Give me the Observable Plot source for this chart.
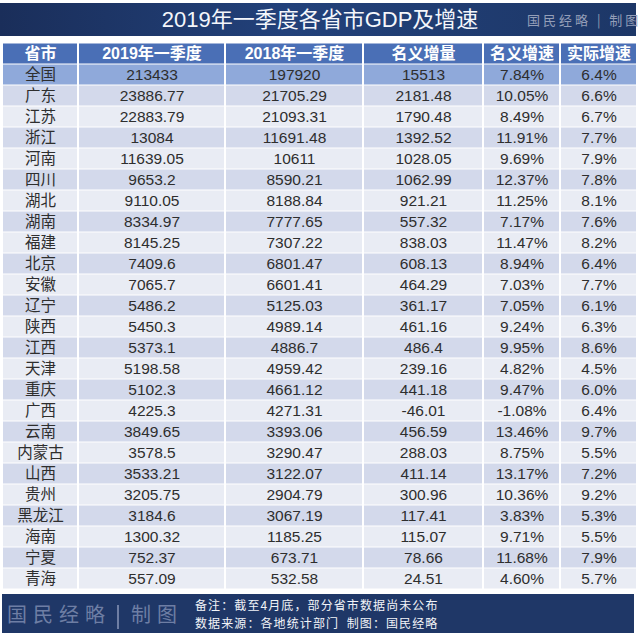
<!DOCTYPE html>
<html>
<head>
<meta charset="utf-8">
<script src="https://cdn.jsdelivr.net/npm/d3@7"></script>
<script src="https://cdn.jsdelivr.net/npm/@observablehq/plot@0.6"></script>
<style>
  html, body { margin: 0; padding: 0; background: #fff; }
  body { width: 640px; height: 638px; position: relative; overflow: hidden; font-family: "Noto Sans CJK SC", "Liberation Sans", sans-serif; }
  #title { position: absolute; left: 0; top: 3px; width: 636px; height: 33px;
    background: linear-gradient(90deg, #1a2e5a 0%, #22417a 45%, #1d3767 100%); }
  #title .main { position: absolute; left: 0; width: 640px; top: 0; height: 33px; line-height: 33px;
    text-align: center; color: #f4f6fb; font-size: 22px; font-family: "Liberation Sans", "Noto Sans CJK SC", sans-serif; }
  #title .brand { position: absolute; left: 527px; top: 0; height: 33px; line-height: 34px;
    color: #939eb8; font-size: 13px; letter-spacing: 3px; white-space: nowrap; }
  #chart { position: absolute; left: 0; top: 38px; }
  #footer { position: absolute; left: 2px; top: 594px; width: 632px; height: 39px; background: #1f3767; }
  #footer .brand { position: absolute; left: 5px; top: 0; height: 39px; line-height: 39px; color: #6e7ea4;
    font-size: 20px; letter-spacing: 6px; white-space: nowrap; }
  #footer .brand .sep { display: inline-block; width: 2px; height: 24px; background: #6e7ea4; vertical-align: middle; margin: 0 12px 0 6px; }
  #footer .note { position: absolute; left: 193px; color: #f2f4f8; font-size: 12px; letter-spacing: 1.1px; white-space: nowrap; }
  #footer .l1 { top: 2px; }
  #footer .l2 { top: 19.6px; }
</style>
</head>
<body>
<div id="title"><div class="main">2019年一季度各省市GDP及增速</div><div class="brand">国民经略 | 制图</div></div>
<div id="chart"></div>
<div id="footer">
  <div class="brand">国民经略<span class="sep"></span>制图</div>
  <div class="note l1">备注：截至4月底，部分省市数据尚未公布</div>
  <div class="note l2">数据来源：各地统计部门&nbsp;&nbsp;制图：国民经略</div>
</div>
<script>
// ---- data ----
const columns = ["省市", "2019年一季度", "2018年一季度", "名义增量", "名义增速", "实际增速"];
const provinces = ["全国","广东","江苏","浙江","河南","四川","湖北","湖南","福建","北京","安徽","辽宁","陕西","江西","天津","重庆","广西","云南","内蒙古","山西","贵州","黑龙江","海南","宁夏","青海"];
const gdp2019 = [213433,23886.77,22883.79,13084,11639.05,9653.2,9110.05,8334.97,8145.25,7409.6,7065.7,5486.2,5450.3,5373.1,5198.58,5102.3,4225.3,3849.65,3578.5,3533.21,3205.75,3184.6,1300.32,752.37,557.09];
const gdp2018 = [197920,21705.29,21093.31,11691.48,10611,8590.21,8188.84,7777.65,7307.22,6801.47,6601.41,5125.03,4989.14,4886.7,4959.42,4661.12,4271.31,3393.06,3290.47,3122.07,2904.79,3067.19,1185.25,673.71,532.58];
const nominalIncrease = [15513,2181.48,1790.48,1392.52,1028.05,1062.99,921.21,557.32,838.03,608.13,464.29,361.17,461.16,486.4,239.16,441.18,-46.01,456.59,288.03,411.14,300.96,117.41,115.07,78.66,24.51];
const nominalRate = [7.84,10.05,8.49,11.91,9.69,12.37,11.25,7.17,11.47,8.94,7.03,7.05,9.24,9.95,4.82,9.47,-1.08,13.46,8.75,13.17,10.36,3.83,9.71,11.68,4.60];
const realRate = [6.4,6.6,6.7,7.7,7.9,7.8,8.1,7.6,8.2,6.4,7.7,6.1,6.3,8.6,4.5,6.0,6.4,9.7,5.5,7.2,9.2,5.3,5.5,7.9,5.7];

// ---- layout ----
const colEdges = [2, 78, 225, 363, 483, 560, 637];
const rowKeys = ["header", ...provinces];

const cells = [];
rowKeys.forEach((row, i) => {
  let texts;
  if (i === 0) texts = columns;
  else {
    const k = i - 1;
    texts = [provinces[k], String(gdp2019[k]), String(gdp2018[k]), String(nominalIncrease[k]),
             nominalRate[k].toFixed(2) + "%", realRate[k].toFixed(1) + "%"];
  }
  texts.forEach((t, j) => cells.push({row, i, j, x1: colEdges[j], x2: colEdges[j + 1], text: t}));
});

const fillOf = d => d.i === 0 ? "#4a6fb6" : d.i === 1 ? "#8fa9da" : (d.i % 2 === 0 ? "#d3d9eb" : "#e9ecf4");

const chart = Plot.plot({
  width: 640,
  height: 556,
  margin: 0,
  x: {type: "linear", domain: [0, 640], range: [0, 640], axis: null},
  y: {type: "band", domain: rowKeys, range: [0, 556], padding: 0, axis: null},
  style: {background: "transparent"},
  marks: [
    Plot.barX(cells, {x1: "x1", x2: "x2", y: "row", fill: fillOf, insetLeft: 1, insetRight: 1, insetTop: 0.5, insetBottom: 0.5}),
    Plot.text(cells.filter(d => d.i === 0), {
      x: d => (d.x1 + d.x2) / 2, y: "row", text: "text", fill: "#ffffff",
      fontSize: 16, fontWeight: "bold", fontFamily: "Liberation Sans, Noto Sans CJK SC, sans-serif"
    }),
    Plot.text(cells.filter(d => d.i > 0), {
      x: d => (d.x1 + d.x2) / 2, y: "row", text: "text", fill: "#2e2e2e",
      fontSize: 15.5, fontFamily: "Liberation Sans, Noto Sans CJK SC, sans-serif"
    })
  ]
});
document.getElementById("chart").appendChild(chart);
</script>
</body>
</html>
